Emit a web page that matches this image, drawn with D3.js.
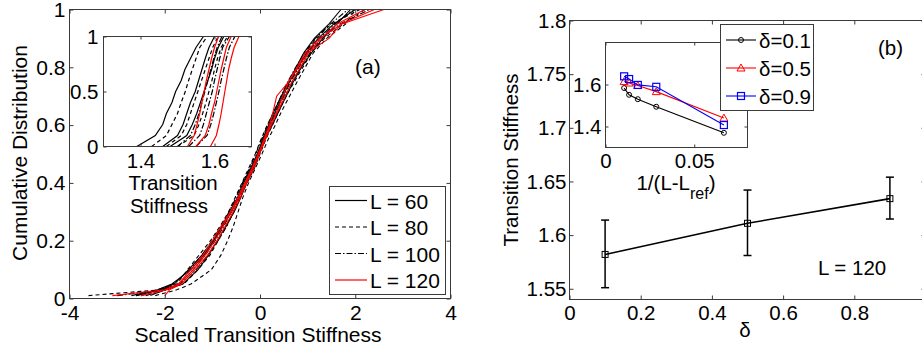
<!DOCTYPE html>
<html>
<head>
<meta charset="utf-8">
<script src="https://cdnjs.cloudflare.com/ajax/libs/d3/7.8.5/d3.min.js"></script>
<style>
body { margin: 0; background: #fff; }
svg text { font-family: 'Liberation Sans', Arial, Helvetica, sans-serif; fill: #000; }
</style>
</head>
<body>
<script>
// ---------- panel (a): CDF of scaled transition stiffness ----------
// cumulative levels at which each curve's x value was read
var cdfLevels = [0.01, 0.03, 0.05, 0.1, 0.15, 0.2, 0.25, 0.3, 0.35, 0.4, 0.45, 0.5,
                 0.55, 0.6, 0.65, 0.7, 0.75, 0.8, 0.85, 0.9, 0.95, 1.0];
var scaledL60 = [
    [-2.6, -2.1, -1.8, -1.5, -1.22, -0.98, -0.8, -0.64, -0.47, -0.36, -0.2, -0.06, 0.07, 0.2, 0.33, 0.48, 0.62, 0.8, 0.98, 1.22, 1.55, 2.0],
    [-2.3, -2.0, -1.62, -1.3, -1.08, -0.9, -0.72, -0.54, -0.4, -0.28, -0.13, -0.02, 0.1, 0.26, 0.4, 0.55, 0.7, 0.87, 1.08, 1.32, 1.62, 1.9],
    [-2.7, -2.15, -1.85, -1.45, -1.18, -0.97, -0.78, -0.6, -0.44, -0.34, -0.18, -0.04, 0.05, 0.18, 0.3, 0.45, 0.6, 0.76, 0.92, 1.14, 1.45, 1.7]
];
var scaledL80 = [
    [-3.6, -2.1, -1.6, -1.3, -1.05, -0.88, -0.7, -0.55, -0.42, -0.27, -0.12, 0.0, 0.12, 0.26, 0.4, 0.55, 0.72, 0.9, 1.08, 1.35, 1.75, 2.2],
    [-2.5, -2.05, -1.75, -1.52, -1.28, -1.04, -0.84, -0.66, -0.52, -0.38, -0.24, -0.1, 0.02, 0.15, 0.3, 0.45, 0.6, 0.78, 0.95, 1.18, 1.5, 2.1],
    [-2.2, -1.75, -1.45, -1.02, -0.82, -0.68, -0.56, -0.46, -0.36, -0.24, -0.1, 0.04, 0.17, 0.32, 0.46, 0.62, 0.78, 0.95, 1.12, 1.4, 1.8, 2.0]
];
var scaledL100 = [
    [-3.0, -2.05, -1.7, -1.4, -1.15, -0.94, -0.76, -0.6, -0.45, -0.3, -0.17, -0.04, 0.08, 0.21, 0.35, 0.5, 0.64, 0.82, 1.0, 1.25, 1.58, 1.95],
    [-2.4, -1.95, -1.68, -1.34, -1.1, -0.88, -0.7, -0.56, -0.42, -0.29, -0.14, -0.01, 0.11, 0.24, 0.39, 0.53, 0.68, 0.86, 1.05, 1.3, 1.68, 2.3],
    [-2.6, -2.15, -1.82, -1.47, -1.22, -1.01, -0.82, -0.65, -0.5, -0.37, -0.22, -0.09, 0.03, 0.16, 0.3, 0.44, 0.58, 0.75, 0.93, 1.16, 1.48, 1.85]
];
var scaledL120 = [
    [-3.1, -2.0, -1.72, -1.45, -1.2, -1.0, -0.82, -0.62, -0.46, -0.32, -0.17, -0.04, 0.1, 0.22, 0.36, 0.48, 0.6, 0.78, 0.95, 1.25, 1.72, 2.6],
    [-2.5, -1.95, -1.7, -1.4, -1.15, -0.95, -0.78, -0.6, -0.44, -0.3, -0.16, -0.03, 0.08, 0.2, 0.28, 0.35, 0.6, 0.8, 1.0, 1.45, 1.7, 2.4],
    [-2.0, -1.9, -1.65, -1.36, -1.1, -0.9, -0.73, -0.56, -0.41, -0.28, -0.13, -0.01, 0.11, 0.24, 0.38, 0.53, 0.67, 0.85, 1.02, 1.28, 1.62, 2.2]
];

// inset of (a): unscaled transition stiffness
var insetLevels = [0, 0.1, 0.2, 0.3, 0.4, 0.5, 0.6, 0.7, 0.8, 0.9, 1];
var rawL60 = [
    [1.39, 1.44, 1.46, 1.47, 1.485, 1.495, 1.51, 1.52, 1.535, 1.55, 1.57],
    [1.46, 1.50, 1.515, 1.525, 1.535, 1.548, 1.557, 1.566, 1.575, 1.585, 1.60],
    [1.48, 1.525, 1.54, 1.552, 1.562, 1.572, 1.582, 1.592, 1.60, 1.61, 1.625]
];
var rawL80 = [
    [1.43, 1.47, 1.485, 1.50, 1.51, 1.521, 1.53, 1.54, 1.55, 1.56, 1.58],
    [1.47, 1.51, 1.525, 1.535, 1.545, 1.555, 1.565, 1.575, 1.585, 1.595, 1.61],
    [1.50, 1.545, 1.558, 1.568, 1.577, 1.585, 1.593, 1.60, 1.608, 1.618, 1.635]
];
var rawL100 = [
    [1.50, 1.535, 1.548, 1.558, 1.566, 1.574, 1.582, 1.59, 1.598, 1.607, 1.62],
    [1.53, 1.56, 1.57, 1.578, 1.586, 1.594, 1.60, 1.607, 1.614, 1.622, 1.64],
    [1.55, 1.58, 1.59, 1.598, 1.605, 1.612, 1.618, 1.625, 1.632, 1.64, 1.655]
];
var rawL120 = [
    [1.527, 1.545, 1.553, 1.56, 1.566, 1.572, 1.578, 1.585, 1.592, 1.60, 1.611],
    [1.55, 1.575, 1.585, 1.592, 1.60, 1.606, 1.612, 1.618, 1.625, 1.632, 1.645],
    [1.589, 1.605, 1.612, 1.618, 1.623, 1.628, 1.633, 1.638, 1.645, 1.653, 1.666]
];
var sizeLabels = ['L = 60', 'L = 80', 'L = 100', 'L = 120'];

// ---------- panel (b) ----------
var deltas = [0.1, 0.5, 0.9];
var stiffL120 = [1.582, 1.611, 1.634];
var errLow = [1.551, 1.581, 1.615];
var errHigh = [1.614, 1.642, 1.654];

var invL = [0.0105, 0.0133, 0.0182, 0.0286, 0.0667];
var stiffD01 = [1.583, 1.551, 1.530, 1.494, 1.370];
var stiffD05 = [1.614, 1.607, 1.595, 1.566, 1.440];
var stiffD09 = [1.639, 1.626, 1.598, 1.589, 1.407];
var deltaLabels = ['\u03b4=0.1', '\u03b4=0.5', '\u03b4=0.9'];

// tick labels
var ticksAx = [-4, -2, 0, 2, 4];
var ticksAy = [0, 0.2, 0.4, 0.6, 0.8, 1];
var ticksAinX = [1.4, 1.6];
var ticksAinY = [0, 0.5, 1];
var ticksBx = [0, 0.2, 0.4, 0.6, 0.8, 1];
var ticksBy = [1.55, 1.6, 1.65, 1.7, 1.75, 1.8];
var ticksBinX = [0, 0.05];
var ticksBinY = [1.4, 1.6];

var width = 922, height = 349;
var svg = d3.select('body').append('svg')
    .attr('width', width)
    .attr('height', height);

var boxColor = '#3a3a3a';

// draws MATLAB-like box axes with inward ticks
function boxAxes(g, x, y, o) {
    var fs = o.fs;
    var ts = o.tick;
    var x0 = x.range()[0], x1 = x.range()[1];
    var y0 = y.range()[0], y1 = y.range()[1];
    // the label sitting on the right border is off the page in the original
    var fmtX = d => (o.hideLast && d === o.xt[o.xt.length - 1]) ? '' : String(d);
    var bot = g.append('g').attr('transform', 'translate(0,' + y0 + ')')
        .call(d3.axisBottom(x).tickValues(o.xt).tickSize(-ts).tickSizeOuter(0).tickPadding(o.padB).tickFormat(fmtX));
    var top = g.append('g').attr('transform', 'translate(0,' + y1 + ')')
        .call(d3.axisTop(x).tickValues(o.xt).tickSize(-ts).tickSizeOuter(0).tickFormat(''));
    var lef = g.append('g').attr('transform', 'translate(' + x0 + ',0)')
        .call(d3.axisLeft(y).tickValues(o.yt).tickSize(-ts).tickSizeOuter(0).tickPadding(o.padL).tickFormat(d => String(d)));
    var rig = g.append('g').attr('transform', 'translate(' + x1 + ',0)')
        .call(d3.axisRight(y).tickValues(o.yt).tickSize(-ts).tickSizeOuter(0).tickFormat(''));
    [bot, top, lef, rig].forEach(function(a) {
        a.attr('font-size', fs).attr('font-family', null);
        a.select('.domain').remove();
        a.selectAll('line').attr('stroke', boxColor);
    });
    g.append('rect')
        .attr('x', x0).attr('y', y1)
        .attr('width', x1 - x0).attr('height', y0 - y1)
        .attr('fill', 'none')
        .attr('stroke', boxColor)
        .attr('stroke-width', 1);
}

var styles = [
    {color: '#000', dash: null},
    {color: '#000', dash: '4,3'},
    {color: '#000', dash: '6,2,1.5,2'},
    {color: '#ff0000', dash: null}
];

// ================= panel (a) =================
var gA = svg.append('g');
var xA = d3.scaleLinear().domain([-4, 4]).range([69.5, 450.5]);
var yA = d3.scaleLinear().domain([0, 1]).range([298.5, 9.5]);

var lineA = d3.line().x(d => xA(d[0])).y(d => yA(d[1]));
[scaledL60, scaledL80, scaledL100, scaledL120].forEach(function(group, gi) {
    group.forEach(function(xs) {
        var pts = xs.map((v, i) => [v, cdfLevels[i]]);
        gA.append('path')
            .attr('d', lineA(pts))
            .attr('fill', 'none')
            .attr('stroke', styles[gi].color)
            .attr('stroke-width', 1.1)
            .attr('stroke-dasharray', styles[gi].dash);
    });
});

boxAxes(gA, xA, yA, {fs: 21, tick: 4, xt: ticksAx, yt: ticksAy, padB: 7, padL: 4});

gA.append('text')
    .attr('x', 258).attr('y', 342)
    .attr('text-anchor', 'middle')
    .attr('font-size', 21)
    .text('Scaled Transition Stiffness');
gA.append('text')
    .attr('transform', 'translate(27,153) rotate(-90)')
    .attr('text-anchor', 'middle')
    .attr('font-size', 21)
    .text('Cumulative Distribution');
gA.append('text')
    .attr('x', 355).attr('y', 74)
    .attr('font-size', 21)
    .text('(a)');

// inset of (a)
var gAi = svg.append('g');
var xAi = d3.scaleLinear().domain([1.3, 1.7]).range([103.5, 251.5]);
var yAi = d3.scaleLinear().domain([0, 1]).range([146.5, 36.5]);
gAi.append('rect')
    .attr('x', 103.5).attr('y', 36.5)
    .attr('width', 148).attr('height', 110)
    .attr('fill', '#fff');
var lineAi = d3.line().x(d => xAi(d[0])).y(d => yAi(d[1]));
[rawL60, rawL80, rawL100, rawL120].forEach(function(group, gi) {
    group.forEach(function(xs) {
        var pts = xs.map((v, i) => [v, insetLevels[i]]);
        gAi.append('path')
            .attr('d', lineAi(pts))
            .attr('fill', 'none')
            .attr('stroke', styles[gi].color)
            .attr('stroke-width', 1.2)
            .attr('stroke-dasharray', styles[gi].dash);
    });
});
boxAxes(gAi, xAi, yAi, {fs: 20.5, tick: 3, xt: ticksAinX, yt: ticksAinY, padB: 7, padL: 5});
gAi.append('text')
    .attr('x', 173).attr('y', 190)
    .attr('text-anchor', 'middle')
    .attr('font-size', 20.5)
    .text('Transition');
gAi.append('text')
    .attr('x', 169).attr('y', 213)
    .attr('text-anchor', 'middle')
    .attr('font-size', 20.5)
    .text('Stiffness');

// legend (a)
var legA = svg.append('g');
legA.append('rect')
    .attr('x', 329.5).attr('y', 186.5)
    .attr('width', 116).attr('height', 108)
    .attr('fill', '#fff')
    .attr('stroke', boxColor);
sizeLabels.forEach(function(lab, i) {
    var ly = 200.5 + i * 26.5;
    legA.append('line')
        .attr('x1', 335).attr('x2', 367)
        .attr('y1', ly).attr('y2', ly)
        .attr('stroke', styles[i].color)
        .attr('stroke-width', 1.2)
        .attr('stroke-dasharray', styles[i].dash);
    legA.append('text')
        .attr('x', 370).attr('y', ly + 8)
        .attr('font-size', 21)
        .text(lab);
});

// ================= panel (b) =================
var gB = svg.append('g');
var xB = d3.scaleLinear().domain([0, 1]).range([569.5, 925.5]);
var yB = d3.scaleLinear().domain([1.54, 1.8]).range([299.5, 20.5]);

boxAxes(gB, xB, yB, {fs: 20.5, tick: 4, xt: ticksBx, yt: ticksBy, padB: 6, padL: 3, hideLast: true});

var lineB = d3.line().x(d => xB(d[0])).y(d => yB(d[1]));
gB.append('path')
    .attr('d', lineB(deltas.map((d, i) => [d, stiffL120[i]])))
    .attr('fill', 'none')
    .attr('stroke', '#000')
    .attr('stroke-width', 1.6);
deltas.forEach(function(d, i) {
    var cx = xB(d);
    gB.append('line')
        .attr('x1', cx).attr('x2', cx)
        .attr('y1', yB(errLow[i])).attr('y2', yB(errHigh[i]))
        .attr('stroke', '#000').attr('stroke-width', 1.5);
    [errLow[i], errHigh[i]].forEach(function(e) {
        gB.append('line')
            .attr('x1', cx - 4).attr('x2', cx + 4)
            .attr('y1', yB(e)).attr('y2', yB(e))
            .attr('stroke', '#000').attr('stroke-width', 1.5);
    });
    gB.append('rect')
        .attr('x', cx - 3).attr('y', yB(stiffL120[i]) - 3)
        .attr('width', 6).attr('height', 6)
        .attr('fill', 'none')
        .attr('stroke', '#000').attr('stroke-width', 1);
});

gB.append('text')
    .attr('x', 745).attr('y', 337)
    .attr('text-anchor', 'middle')
    .attr('font-size', 20.5)
    .text('\u03b4');
gB.append('text')
    .attr('transform', 'translate(518,160) rotate(-90)')
    .attr('text-anchor', 'middle')
    .attr('font-size', 20.5)
    .text('Transition Stiffness');
gB.append('text')
    .attr('x', 878).attr('y', 55)
    .attr('font-size', 20.5)
    .text('(b)');
gB.append('text')
    .attr('x', 818).attr('y', 275)
    .attr('font-size', 20.5)
    .text('L = 120');

// inset of (b)
var gBi = svg.append('g');
var xBi = d3.scaleLinear().domain([0, 0.08]).range([605.5, 747.5]);
var yBi = d3.scaleLinear().domain([1.3, 1.8]).range([147.5, 42.5]);
gBi.append('rect')
    .attr('x', 605.5).attr('y', 42.5)
    .attr('width', 142).attr('height', 105)
    .attr('fill', '#fff');
boxAxes(gBi, xBi, yBi, {fs: 20.5, tick: 3, xt: ticksBinX, yt: ticksBinY, padB: 6, padL: 4});

var deltaSeries = [
    {vals: stiffD01, color: '#000', marker: 'circle'},
    {vals: stiffD05, color: '#ff0000', marker: 'triangle'},
    {vals: stiffD09, color: '#0000ff', marker: 'square'}
];

function drawMarker(g, type, cx, cy, color) {
    if (type === 'circle') {
        g.append('circle').attr('cx', cx).attr('cy', cy).attr('r', 2.5)
            .attr('fill', 'none').attr('stroke', color).attr('stroke-width', 1);
    } else if (type === 'triangle') {
        g.append('path')
            .attr('d', 'M' + cx + ',' + (cy - 4) + 'L' + (cx + 4) + ',' + (cy + 3) + 'L' + (cx - 4) + ',' + (cy + 3) + 'Z')
            .attr('fill', 'none').attr('stroke', color).attr('stroke-width', 1);
    } else {
        g.append('rect').attr('x', cx - 3.5).attr('y', cy - 3.5)
            .attr('width', 7).attr('height', 7)
            .attr('fill', 'none').attr('stroke', color).attr('stroke-width', 1.2);
    }
}

var lineBi = d3.line().x(d => xBi(d[0])).y(d => yBi(d[1]));
deltaSeries.forEach(function(s) {
    gBi.append('path')
        .attr('d', lineBi(invL.map((v, i) => [v, s.vals[i]])))
        .attr('fill', 'none')
        .attr('stroke', s.color)
        .attr('stroke-width', 1.1);
    invL.forEach(function(v, i) {
        drawMarker(gBi, s.marker, xBi(v), yBi(s.vals[i]), s.color);
    });
});

var lab = gBi.append('text')
    .attr('x', 676).attr('y', 190)
    .attr('text-anchor', 'middle')
    .attr('font-size', 20.5);
lab.append('tspan').text('1/(L-L');
lab.append('tspan').attr('dy', 9).attr('font-size', 16).text('ref');
lab.append('tspan').attr('dy', -9).text(')');

// legend (b)
var legB = svg.append('g');
legB.append('rect')
    .attr('x', 720.5).attr('y', 24.5)
    .attr('width', 93).attr('height', 86)
    .attr('fill', '#fff')
    .attr('stroke', boxColor);
deltaSeries.forEach(function(s, i) {
    var ly = 40 + i * 28;
    legB.append('line')
        .attr('x1', 726).attr('x2', 756)
        .attr('y1', ly).attr('y2', ly)
        .attr('stroke', s.color).attr('stroke-width', 1.1);
    drawMarker(legB, s.marker, 741, ly, s.color);
    legB.append('text')
        .attr('x', 759).attr('y', ly + 8)
        .attr('font-size', 20.5)
        .text(deltaLabels[i]);
});
</script>
</body>
</html>
